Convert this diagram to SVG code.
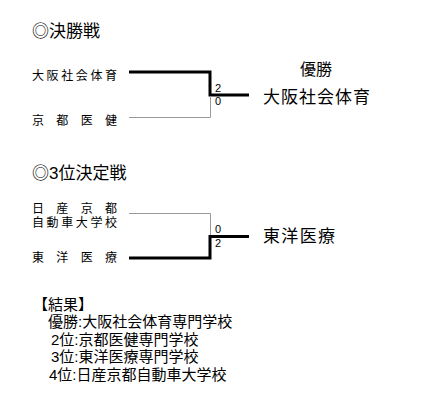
<svg xmlns="http://www.w3.org/2000/svg" width="434" height="408" viewBox="0 0 434 408">
<style>
text{font-family:"Liberation Sans","Noto Sans CJK JP",sans-serif;fill:#000}
.h{font-size:17px}
.t{font-size:12px}
.s{font-size:11px}
.w{font-size:17px}
.c{font-size:16px}
.r{font-size:15px}
.win{fill:none;stroke:#000;stroke-width:3}
.lose{fill:none;stroke:#999;stroke-width:1}
</style>
<rect width="434" height="408" fill="#fff"/>
<text class="h" x="32" y="37">◎決勝戦</text>
<text class="h" x="32" y="179">◎3位決定戦</text>
<g id="final-team1"><text class="t" x="32" y="80" textLength="85" lengthAdjust="spacing">大阪社会体育</text></g>
<g id="final-team2"><text class="t" x="32" y="125" textLength="85" lengthAdjust="spacing">京都医健</text></g>
<g id="final-winner">
<text class="c" x="316" y="75" text-anchor="middle">優勝</text>
<text class="w" x="263" y="103" textLength="107" lengthAdjust="spacing">大阪社会体育</text>
</g>
<g id="third-team1"><text class="t" x="32" y="213" textLength="85" lengthAdjust="spacing">日産京都</text><text class="t" x="32" y="227" textLength="85" lengthAdjust="spacing">自動車大学校</text></g>
<g id="third-team2"><text class="t" x="32" y="262" textLength="85" lengthAdjust="spacing">東洋医療</text></g>
<g id="third-winner"><text class="w" x="263" y="242" textLength="72" lengthAdjust="spacing">東洋医療</text></g>
<g id="connectors">
<polyline class="win" points="129,72 210,72 210,95 249,95"/>
<polyline class="lose" points="129,117.5 210.5,117.5 210.5,96"/>
<polyline class="lose" points="129,213.5 210.5,213.5 210.5,236"/>
<polyline class="win" points="129,258 210,258 210,236.5 249,236.5"/>
<text class="s" x="215" y="92">2</text>
<text class="s" x="215" y="105">0</text>
<text class="s" x="215" y="233">0</text>
<text class="s" x="215" y="247">2</text>
</g>
<g id="results">
<text class="r" x="33" y="310">【結果】</text>
<text class="r" x="48" y="327">優勝:大阪社会体育専門学校</text>
<text class="r" x="51" y="345">2位:京都医健専門学校</text>
<text class="r" x="51" y="362">3位:東洋医療専門学校</text>
<text class="r" x="49" y="380">4位:日産京都自動車大学校</text>
</g>
</svg>
